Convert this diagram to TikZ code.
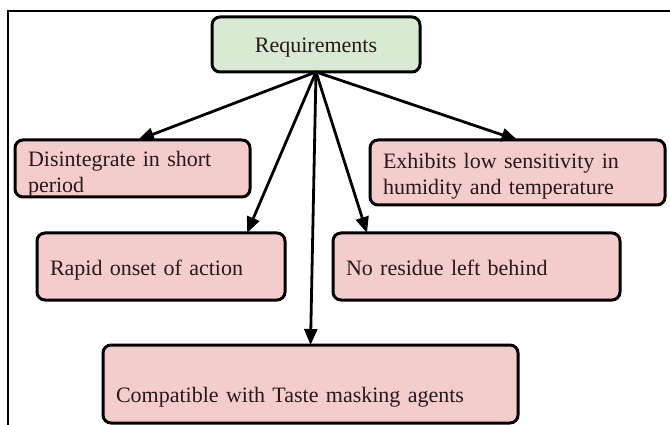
\documentclass[tikz,border=0pt]{standalone}
\usepackage{fontspec}
\setmainfont{Liberation Serif}
\usetikzlibrary{arrows.meta}

\definecolor{reqgreen}{RGB}{217,234,211}
\definecolor{needpink}{RGB}{244,204,204}
\definecolor{inktext}{RGB}{40,25,25}

\begin{document}
\begin{tikzpicture}[
    x=1pt, y=-1pt,
    block/.style={rectangle, draw, line width=3pt, rounded corners=8pt, anchor=north west,
                  inner xsep=13pt, inner ysep=0pt, outer sep=0pt, align=left,
                  text=inktext, font=\fontsize{22}{26}\selectfont},
    reqbox/.style={block, fill=reqgreen, align=center},
    need/.style={block, fill=needpink},
    arr/.style={-{Triangle[length=16pt, width=13pt]}, line width=2.8pt},
    frame/.style={line width=2pt},
]
\useasboundingbox (0,0) rectangle (670,425);

% Frame
\draw[frame] (8,425) -- (8,11) -- (670,11);

% Root
\node[reqbox, text width=182pt, text height=36pt, text depth=19pt] (req) at (212,17) {Requirements};

% Requirements
\node[need, text width=209pt, text height=27pt, text depth=30pt] (dis) at (15,140) {Disintegrate in short\\period};
\node[need, text width=269pt, text height=29pt, text depth=36pt] (exh) at (370,140) {Exhibits low sensitivity in\\humidity and temperature};
\node[need, text width=222pt, text height=42pt, text depth=25pt] (rap) at (37,233) {Rapid onset of action};
\node[need, text width=261pt, text height=42pt, text depth=25pt] (nor) at (333,233) {No residue left behind};
\node[need, text width=389pt, text height=57pt, text depth=21pt] (com) at (103,345) {Compatible with Taste masking agents};

% Arrows
\draw[arr] (req.south) -- ([xshift=5.5pt]dis.north);
\draw[arr] (req.south) -- (exh.north);
\draw[arr] (req.south) -- ([xshift=86pt]rap.north);
\draw[arr] (req.south) -- ([xshift=-109.5pt]nor.north);
\draw[arr] (req.south) -- (com.north);

\end{tikzpicture}
\end{document}
